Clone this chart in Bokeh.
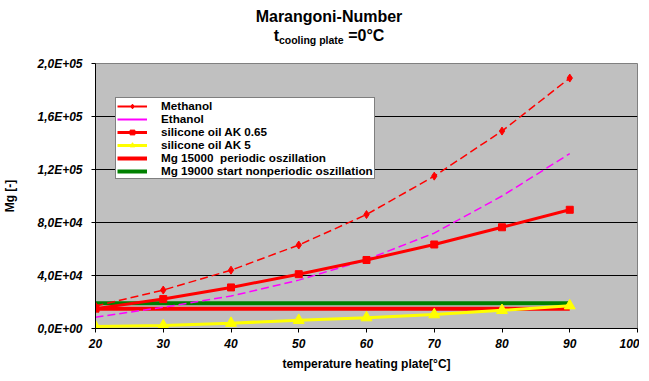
from bokeh.plotting import figure
from bokeh.models import Range1d, FixedTicker, Legend, LegendItem, Div
from bokeh.layouts import column
from bokeh.embed import file_html
from bokeh.resources import INLINE

# ---- data ----
temps = [20, 30, 40, 50, 60, 70, 80, 90]
methanol = [17000, 29000, 44000, 63000, 86000, 115000, 149000, 189000]
ethanol = [8500, 16000, 24500, 36500, 52000, 72000, 100000, 132000]
sil_ak065 = [15000, 22200, 31000, 41000, 51700, 63400, 76400, 89600]
sil_ak5 = [1500, 2200, 4000, 6200, 8200, 10500, 13700, 17200]
mg_periodic_x = [20, 90]
mg_periodic = [15000, 15000]
mg_nonperiodic_x = [20, 90]
mg_nonperiodic = [19000, 19000]

x_ticks = [20, 30, 40, 50, 60, 70, 80, 90, 100]
y_ticks = [0, 40000, 80000, 120000, 160000, 200000]
y_tick_labels = ["0,0E+00", "4,0E+04", "8,0E+04", "1,2E+05", "1,6E+05", "2,0E+05"]

title_main = "Marangoni-Number"
title_t = "t"
title_sub = "cooling plate"
title_rest = " =0°C"
x_label = "temperature heating plate[°C]"
y_label = "Mg [-]"
legend_labels = ["Methanol", "Ethanol", "silicone oil AK 0.65", "silicone oil AK 5",
                 "Mg 15000  periodic oszillation", "Mg 19000 start nonperiodic oszillation"]

FONT = "Liberation Sans"

title_html = (
    '<div style="width:633px;box-sizing:border-box;padding-top:7px;padding-left:25px;text-align:center;'
    "font-family:'Liberation Sans';font-weight:bold;font-size:16px;line-height:19px;color:black\">"
    f'{title_main}<br>{title_t}<span style="font-size:10.5px;position:relative;top:3px">{title_sub}</span>{title_rest}'
    '</div>'
)
title_div = Div(text=title_html, width=633, height=46, margin=0)

p = figure(frame_width=542, frame_height=265, output_backend="svg", toolbar_location=None,
           x_range=Range1d(20, 100), y_range=Range1d(0, 200000),
           min_border_left=89, min_border_right=2, min_border_top=17, min_border_bottom=0)
p.background_fill_color = "#C0C0C0"
p.border_fill_color = "white"
p.outline_line_color = "#808080"
p.outline_line_width = 1

p.xgrid.visible = False
p.ygrid.ticker = FixedTicker(ticks=y_ticks)
p.ygrid.grid_line_color = "black"
p.ygrid.grid_line_width = 1

p.xaxis.ticker = FixedTicker(ticks=x_ticks)
p.yaxis.ticker = FixedTicker(ticks=y_ticks)
p.yaxis.major_label_overrides = {t: l for t, l in zip(y_ticks, y_tick_labels)}
for ax in (p.xaxis, p.yaxis):
    ax.major_label_text_font = FONT
    ax.major_label_text_font_style = "bold italic"
    ax.major_label_text_font_size = "12px"
    ax.major_label_text_color = "black"
    ax.major_tick_in = 0
    ax.major_tick_out = 4
    ax.minor_tick_line_color = None
    ax.axis_line_color = "black"
    ax.major_tick_line_color = "black"
    ax.axis_label_text_font = FONT
    ax.axis_label_text_font_style = "bold"
    ax.axis_label_text_font_size = "12px"
    ax.axis_label_text_color = "black"
p.xaxis.axis_label = x_label
p.yaxis.axis_label = y_label
p.xaxis.major_label_standoff = 6
p.xaxis.axis_label_standoff = 6
p.yaxis.major_label_standoff = 9
p.yaxis.axis_label_standoff = 17

# ---- series ----
r_green = p.line(mg_nonperiodic_x, mg_nonperiodic, line_color="#008000", line_width=4)
r_red = p.line(mg_periodic_x, mg_periodic, line_color="#FF0000", line_width=4)

p.line(temps, ethanol, line_color="#FF00FF", line_width=1.5, line_dash="8 4")
p.line(temps, methanol, line_color="#FF0000", line_width=1.5, line_dash="8 4")
m1 = p.scatter(temps, methanol, marker="diamond", size=8, fill_color="#FF0000", line_color="#FF0000")

l3 = p.line(temps, sil_ak065, line_color="#FF0000", line_width=3)
m3 = p.scatter(temps, sil_ak065, marker="square", size=7, fill_color="#FF0000", line_color="#FF0000")

l4 = p.line(temps, sil_ak5, line_color="#FFFF00", line_width=3)
m4 = p.scatter(temps, sil_ak5, marker="triangle", size=11, fill_color="#FFFF00", line_color="#FFFF00")

# single-point lines: draw nothing on the plot, give solid legend samples
l1 = p.line(temps[:1], methanol[:1], line_color="#FF0000", line_width=2)
l2 = p.line(temps[:1], ethanol[:1], line_color="#FF00FF", line_width=2)

legend = Legend(items=[
    LegendItem(label=legend_labels[0], renderers=[l1, m1]),
    LegendItem(label=legend_labels[1], renderers=[l2]),
    LegendItem(label=legend_labels[2], renderers=[l3, m3]),
    LegendItem(label=legend_labels[3], renderers=[l4, m4]),
    LegendItem(label=legend_labels[4], renderers=[r_red]),
    LegendItem(label=legend_labels[5], renderers=[r_green]),
], location=(20, 149))
legend.margin = 0
legend.padding = 1
legend.spacing = -2
legend.label_height = 12
legend.glyph_height = 12
legend.glyph_width = 30
legend.label_standoff = 14
legend.label_text_font = FONT
legend.label_text_font_style = "bold"
legend.label_text_font_size = "11.7px"
legend.label_text_line_height = 1.0
legend.label_text_color = "black"
legend.border_line_color = "black"
legend.border_line_width = 1
legend.background_fill_color = "white"
legend.background_fill_alpha = 1
p.add_layout(legend, "center")

layout = column(title_div, p, spacing=0)
open("out.html", "w").write(file_html(layout, INLINE))
